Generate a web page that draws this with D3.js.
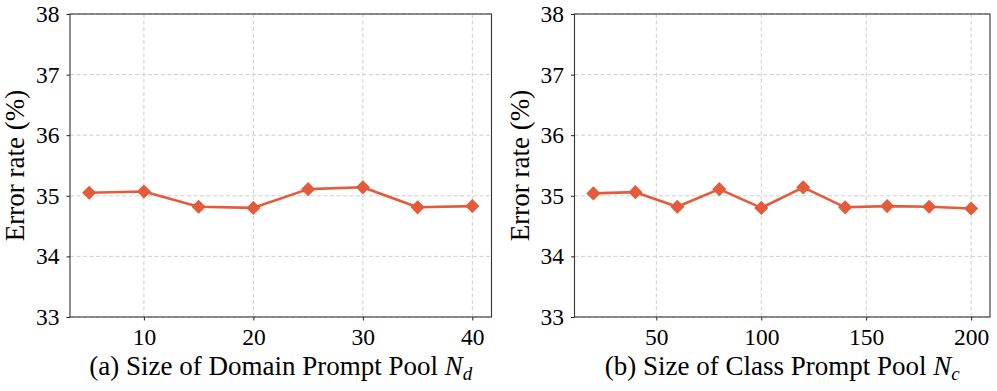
<!DOCTYPE html>
<html>
<head>
<meta charset="utf-8">
<script src="https://cdn.jsdelivr.net/npm/d3@7"></script>
<style>
  body { margin: 0; background: #fff; }
  svg text { font-family: "Liberation Serif", Tinos, "Times New Roman", Times, serif; fill: #000; }
</style>
</head>
<body>
<div id="chart"></div>
<script>
// panel (a): domain prompt pool size
const domainSizes = [5, 10, 15, 20, 25, 30, 35, 40];
const domainErr = [35.05, 35.07, 34.82, 34.80, 35.11, 35.14, 34.81, 34.83];
const domainTicks = [10, 20, 30, 40];

// panel (b): class prompt pool size
const classSizes = [20, 40, 60, 80, 100, 120, 140, 160, 180, 200];
const classErr = [35.04, 35.06, 34.82, 35.11, 34.80, 35.14, 34.81, 34.83, 34.82, 34.79];
const classTicks = [50, 100, 150, 200];

const yTicks = [33, 34, 35, 36, 37, 38];

const W = 997, H = 391;
const LINE = "#e45a3b";
const SERIF = '"Liberation Serif", Tinos, "Times New Roman", Times, serif';

const svg = d3.select("#chart").append("svg")
    .attr("width", W).attr("height", H);

function panel(x0, x1, xs, ys, ticks, labelMain, sub) {
    const top = 14, bottom = 317;
    const pad = (d3.max(xs) - d3.min(xs)) * 0.05;
    const x = d3.scaleLinear()
        .domain([d3.min(xs) - pad, d3.max(xs) + pad])
        .range([x0, x1]);
    const y = d3.scaleLinear().domain([33, 38]).range([bottom, top]);

    const g = svg.append("g");

    // grid
    g.append("g").selectAll("line").data(ticks).enter().append("line")
        .attr("x1", d => x(d)).attr("x2", d => x(d))
        .attr("y1", top).attr("y2", bottom)
        .attr("stroke", "#cfcfcf").attr("stroke-width", 1)
        .attr("stroke-dasharray", "4,2.5");
    g.append("g").selectAll("line").data(yTicks).enter().append("line")
        .attr("x1", x0).attr("x2", x1)
        .attr("y1", d => y(d)).attr("y2", d => y(d))
        .attr("stroke", "#cfcfcf").attr("stroke-width", 1)
        .attr("stroke-dasharray", "4,2.5");

    // axes
    const ax = g.append("g")
        .attr("transform", "translate(0," + bottom + ")")
        .call(d3.axisBottom(x).tickValues(ticks).tickSize(3.5).tickPadding(8).tickFormat(d3.format("d")));
    const ay = g.append("g")
        .attr("transform", "translate(" + x0 + ",0)")
        .call(d3.axisLeft(y).tickValues(yTicks).tickSize(3.5).tickPadding(7).tickFormat(d3.format("d")));
    [ax, ay].forEach(a => {
        a.attr("font-family", SERIF).attr("font-size", 23.5);
        a.select(".domain").remove();
        a.selectAll(".tick line").attr("stroke", "#222").attr("stroke-width", 1);
        a.selectAll(".tick text").attr("fill", "#000");
    });

    // frame
    g.append("rect")
        .attr("x", x0).attr("y", top)
        .attr("width", x1 - x0).attr("height", bottom - top)
        .attr("fill", "none").attr("stroke", "#333").attr("stroke-width", 1.1);

    const data = xs.map((d, i) => [d, ys[i]]);

    g.append("path")
        .datum(data)
        .attr("fill", "none")
        .attr("stroke", LINE)
        .attr("stroke-width", 2.6)
        .attr("stroke-linejoin", "round")
        .attr("d", d3.line().x(d => x(d[0])).y(d => y(d[1])));

    g.append("g").selectAll("path").data(data).enter().append("path")
        .attr("d", d3.symbol().type(d3.symbolSquare).size(100))
        .attr("transform", d => "translate(" + x(d[0]) + "," + y(d[1]) + ") rotate(45)")
        .attr("fill", LINE);

    // y label
    svg.append("text")
        .attr("transform", "translate(" + (x0 - 46) + "," + ((top + bottom) / 2) + ") rotate(-90)")
        .attr("text-anchor", "middle")
        .attr("font-size", 27)
        .text("Error rate (%)");

    // x label
    const t = svg.append("text")
        .attr("x", (x0 + x1) / 2)
        .attr("y", 375)
        .attr("text-anchor", "middle")
        .attr("font-size", 27);
    t.append("tspan").text(labelMain + " ");
    t.append("tspan").attr("font-style", "italic").text("N");
    t.append("tspan").attr("font-style", "italic").attr("font-size", 19).attr("dy", 5).text(sub);
}

panel(70, 491.5, domainSizes, domainErr, domainTicks, "(a) Size of Domain Prompt Pool", "d");
panel(574.5, 990, classSizes, classErr, classTicks, "(b) Size of Class Prompt Pool", "c");
</script>
</body>
</html>
